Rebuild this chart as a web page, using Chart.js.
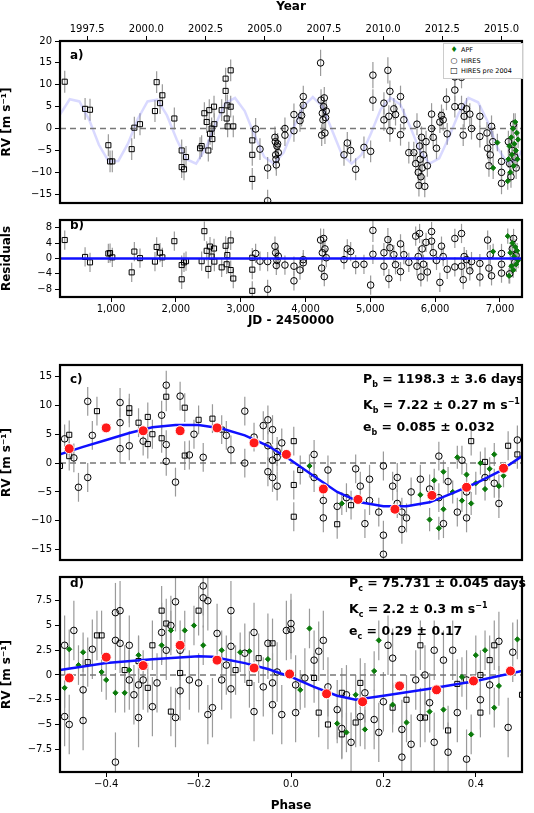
<!DOCTYPE html>
<html>
<head>
<meta charset="utf-8">
<script src="https://cdn.jsdelivr.net/npm/chart.js@4"></script>
<style>
  body { margin: 0; background: #fff; font-family: "DejaVu Sans", sans-serif; }
  #wrap { position: relative; width: 534px; height: 813px; }
  .c { position: absolute; left: 0; width: 534px; }
  .lab { position: absolute; font-weight: bold; font-size: 12px; color: #000; }
  .ann { position: absolute; font-weight: bold; font-size: 12.5px; line-height: 17px; color: #000; }
  .ann sub { font-size: 8px; }
  .ann sup { font-size: 8px; }
  #leg { position: absolute; left: 443px; top: 43px; width: 75px; border: 1px solid #ccc; background: #fff;
         font-size: 6.5px; line-height: 9.5px; padding: 1px 0 1px 3px; }
  #leg span { display: inline-block; width: 14px; text-align: center; }
</style>
</head>
<body>
<div id="wrap">
  <div class="c" style="top:0;height:212px"><canvas id="cA"></canvas></div>
  <div class="c" style="top:211px;height:117px"><canvas id="cB"></canvas></div>
  <div class="c" style="top:355px;height:214px"><canvas id="cC"></canvas></div>
  <div class="c" style="top:568px;height:245px"><canvas id="cD"></canvas></div>
  <div id="leg">
    <div><span style="color:#0a7a0a;font-size:8px">♦</span>APF</div>
    <div><span style="font-size:8px">○</span>HIRES</div>
    <div><span style="font-size:8px">□</span>HIRES pre 2004</div>
  </div>
  <div class="lab" style="left:70px;top:48px">a)</div>
  <div class="lab" style="left:70px;top:218px">b)</div>
  <div class="lab" style="left:70px;top:372px">c)</div>
  <div class="lab" style="left:70px;top:576px">d)</div>
  <div class="ann" style="left:363px;top:370px">P<sub>b</sub> = 1198.3 ± 3.6 days<br>K<sub>b</sub> = 7.22 ± 0.27 m s<sup>−1</sup><br>e<sub>b</sub> = 0.085 ± 0.032</div>
  <div class="ann" style="left:349px;top:574px">P<sub>c</sub> = 75.731 ± 0.045 days<br>K<sub>c</sub> = 2.2 ± 0.3 m s<sup>−1</sup><br>e<sub>c</sub> = 0.29 ± 0.17</div>
</div>
<script>
// ---- panel a: RV vs time [JD, RV, err] ----
let aPre = [[286,10.7,2.5],[600,4.5,2.5],[676,4.3,2.5],[959,-3.8,2.5],[985,-7.5,2.5],[1020,-7.5,2.5],[1319,-4.7,2.5],[1360,0.2,2.5],[1447,1,2.5],[1678,4,2.5],[1704,10.6,2.5],[1756,5.8,2.5],[1792,7.6,2.5],[1977,2.3,2.5],[2090,-5,2.5],[2090,-8.8,2.5],[2126,-9.3,2.5],[2157,-6.5,2.5],[2373,-4.5,2.5],[2398,-4,2.5],[2440,3.5,2.5],[2476,1.5,2.5],[2501,-5,2.5],[2516,4.2,2.5],[2527,-1.2,2.5],[2552,0,2.5],[2563,-2.4,2.5],[2589,5,2.5],[2594,1,2.5],[2707,4.2,2.5],[2768,11.4,2.5],[2768,8.6,2.5],[2784,2.3,2.5],[2794,5.3,2.5],[2799,0.5,2.5],[2846,13.3,2.5],[2846,5,2.5],[2886,0.5,2.5],[3179,-2.7,2.5],[3179,-6,2.5],[3179,-11.5,2.5]];
let aHires = [[3231,-0.1,2.5],[3298,-4.7,2.5],[3416,-9,2.5],[3416,-16.5,2.5],[3529,-2,2.5],[3535,-3,2.5],[3540,-6,2.5],[3545,-7,2.5],[3550,-8.3,2.5],[3560,-4,2.5],[3570,-3.5,2.5],[3580,-5.5,2.5],[3683,-1.5,2.5],[3683,0,2.5],[3822,3.2,2.5],[3822,-0.5,2.5],[3915,1.8,2.5],[3940,3,2.5],[3966,5.3,2.5],[3966,7.3,2.5],[4233,15,3],[4240,6.5,2.5],[4250,-1.5,2.5],[4260,3.5,2.5],[4270,2,2.5],[4280,5,2.5],[4290,7,2.5],[4300,-1,2.5],[4310,2.5,2.5],[4320,4,2.5],[4594,-6,2.5],[4645,-3.3,2.5],[4697,-5,2.5],[4774,-9.3,2.5],[4902,-4.3,2.5],[5005,-5.2,2.5],[5040,12.2,3],[5040,6.5,2.5],[5210,5.8,2.5],[5210,2,2.5],[5271,13.3,3],[5286,2.8,2.5],[5302,-0.5,2.5],[5302,8.5,2.5],[5363,4.5,2.5],[5389,3.2,2.5],[5466,7.3,2.5],[5466,-1.4,2.5],[5517,2,2.5],[5594,-5.5,2.5],[5671,-5.5,2.5],[5700,-8,2.5],[5720,1,2.5],[5740,-10,2.5],[5750,-13,2.5],[5760,-4,2.5],[5770,-7,2.5],[5780,-11,2.5],[5790,-2,2.5],[5800,-9,2.5],[5820,-6,2.5],[5840,-13.2,2.5],[5860,-3,2.5],[5880,-8.5,2.5],[5945,3.3,2.5],[5945,0,2.5],[5970,-2,2.5],[6021,-4.5,2.5],[6073,1.5,2.5],[6098,3,2.5],[6124,2,2.5],[6175,6.7,2.5],[6186,-1.2,2.5],[6304,11.8,2.5],[6304,8.8,2.5],[6304,5,2.5],[6407,11.7,2.5],[6407,5,2.5],[6433,-1.5,2.5],[6448,2.8,2.5],[6484,4.5,2.5],[6535,3.3,2.5],[6561,0,2.5],[6690,2.8,2.5],[6690,-1.8,2.5],[6800,-1,2.5],[6810,-4.5,2.5],[6830,-8.5,2.5],[6850,-6,2.5],[6870,0.5,2.5],[6890,-3,2.5],[7024,-10,2.5],[7024,-12.5,2.5],[7024,-7.5,2.5],[7130,-3,2.5],[7150,-8,2.5],[7170,-11,2.5],[7190,-5,2.5],[7210,1,2.5],[7230,-6.5,2.5],[7250,-9,2.5]];
let aApf = [[6895,-9,2.5],[6960,-3.2,2],[7120,-12,2],[7130,-7,2],[7145,-4,2],[7160,-10,2],[7175,-2,2],[7185,-6,2],[7200,0,2],[7210,-8.5,2],[7220,-3.5,2],[7235,1.5,2],[7245,-5,2],[7260,-1,2],[7270,-7,2],[7280,-2.5,2]];
let aModelJD = [];
let aModelRV = [3.2,6.7,6.2,2.0,-3.7,-7.5,-7.4,-3.4,2.2,6.2,6.6,3.0,-2.5,-7.0,-8.0,-4.5,1.0,5.8,7.0,4.0,-1.5,-6.5,-8.0,-5.5,0,5.0,7.2,5.0,-0.5,-6.0,-8.0,-6.0,-1.0,4.5,7.0,5.5,0.5,-5.0,-8.0,-6.8,-2.0,3.5,7.0,6.0,1.5,-4.5,-7.8,-7.0,-3.0];
for (let i = 0; i < aModelRV.length; i++) aModelJD.push(213 + 150 * i);

// ---- panel b: residuals [JD, res, err] ----
let bPre = [[286,4.8,2.5],[600,0.4,2.5],[676,-1,2.5],[959,1.3,2.5],[985,1.4,2.5],[1020,0.3,2.5],[1319,-3.6,2.5],[1360,1.8,2.5],[1447,0.1,2.5],[1678,-0.8,2.5],[1704,3,2.5],[1756,1.5,2.5],[1792,0.3,2.5],[1977,4.5,2.5],[2090,-1.7,2.5],[2090,-5.4,2.5],[2126,-1,2.5],[2157,-0.7,2.5],[2398,-0.7,2.5],[2440,7.1,2.5],[2476,2,2.5],[2501,-2.7,2.5],[2527,3.1,2.5],[2552,0.5,2.5],[2589,2.6,2.5],[2594,-0.8,2.5],[2707,-2.3,2.5],[2768,3.3,2.5],[2784,-1.5,2.5],[2794,0.9,2.5],[2846,4.7,2.5],[2846,-3,2.5],[2886,-5.2,2.5],[3179,0.2,2.5],[3179,-2.9,2.5],[3179,-8.4,2.5]];
let bHires = [[3231,1.3,2.5],[3298,-0.7,2.5],[3416,-0.8,2.5],[3416,-8,2.5],[3529,3.2,2.5],[3540,1.5,2.5],[3550,-1.8,2.5],[3560,-0.5,2.5],[3580,0.6,2.5],[3683,-1.7,2.5],[3822,-2,2.5],[3822,-5.8,2.5],[3915,-3,2.5],[3966,-1.1,2.5],[3966,-0.3,2.5],[4233,4.8,3],[4250,-2.5,2.5],[4260,1.5,2.5],[4280,5.2,2.5],[4290,-4.7,2.5],[4300,2.5,2.5],[4320,0.2,2.5],[4594,-0.3,2.5],[4645,2.5,2.5],[4697,1.8,2.5],[4774,-1.6,2.5],[4902,-1.5,2.5],[5005,-6.9,2.5],[5040,7.3,3],[5040,1.1,2.5],[5210,1.5,2.5],[5210,-2,2.5],[5271,4.9,3],[5286,-5.2,2.5],[5302,2.8,2.5],[5363,1,2.5],[5389,-1.6,2.5],[5466,3.8,2.5],[5466,-3.4,2.5],[5517,1,2.5],[5594,-1,2.5],[5700,5.8,2.5],[5720,-2,2.5],[5740,0.5,2.5],[5760,6.5,2.5],[5780,-4.8,2.5],[5800,2.5,2.5],[5820,-1.5,2.5],[5860,4.2,2.5],[5880,-3.5,2.5],[5945,7,2.5],[5945,4.5,2.5],[5970,1.5,2.5],[6021,-0.5,2.5],[6073,-6.2,2.5],[6098,3.2,2.5],[6124,0.5,2.5],[6186,-2.8,2.5],[6304,5.2,2.5],[6304,-2.2,2.5],[6407,6.5,2.5],[6407,-2,2.5],[6433,-5.5,2.5],[6448,0.5,2.5],[6484,-0.3,2.5],[6535,-3.2,2.5],[6561,-0.8,2.5],[6690,-1.3,2.5],[6690,-4.8,2.5],[6810,4.8,2.5],[6830,-2.5,2.5],[6850,1,2.5],[6870,-4.5,2.5],[7024,-1.5,2.5],[7024,-3.8,2.5],[7024,1.3,2.5],[7150,-4,2.5],[7190,2.5,2.5],[7210,5.2,2.5],[7230,-1,2.5],[7250,0.8,2.5]];
let bApf = [[6895,1.8,2],[7120,5.8,2],[7140,-4.5,2],[7160,1.5,2],[7175,-2,2],[7190,4,2],[7205,-3,2],[7220,0.5,2],[7235,3,2],[7250,-1.5,2],[7265,2,2],[7280,-0.5,2]];

// ---- panel c: phased planet b [phase, RV, err] ----
let cPre = [[-0.48,4.9,2.5],[-0.48,1.2,2.5],[-0.42,9,2.5],[-0.35,9.5,2.5],[-0.35,8.7,2.5],[-0.33,7,2.5],[-0.31,3.3,2.5],[-0.31,8,2.5],[-0.3,5,2.5],[-0.28,4.3,2.5],[-0.27,11.5,2.5],[-0.23,9.6,2.5],[-0.23,1.3,2.5],[-0.2,7.5,2.5],[-0.17,7.7,2.5],[-0.15,5.8,2.5],[0.006,3.8,2.5],[0.02,-1.2,2.5],[0.006,-3.8,2.5],[0.006,-9.3,2.5],[0.1,-10.6,2.5],[0.13,-7.3,2.5],[0.39,3.8,2.5],[0.42,0.2,2.5],[0.47,3,2.5],[0.49,1.5,2.5],[-0.5,-0.5,2.5]];
let cHires = [[-0.49,4.2,2.5],[-0.47,0.9,2.5],[-0.46,-4.2,2.5],[-0.44,10.7,2.5],[-0.44,-2.5,2.5],[-0.43,4.8,2.5],[-0.37,10.5,2.5],[-0.37,7,2.5],[-0.37,2.5,2.5],[-0.35,3,2.5],[-0.32,3.8,2.5],[-0.28,8.3,2.5],[-0.27,13.5,2.5],[-0.27,0.3,2.5],[-0.27,3.2,2.5],[-0.25,-3.3,2.5],[-0.24,11.6,2.5],[-0.22,1.4,2.5],[-0.21,5,2.5],[-0.19,1,2.5],[-0.14,4.8,2.5],[-0.13,2.3,2.5],[-0.1,9,2.5],[-0.1,0,2.5],[-0.08,4.5,2.5],[-0.06,6.5,2.5],[-0.05,7.5,2.5],[-0.05,3,2.5],[-0.05,-1.5,2.5],[-0.04,5.8,2.5],[-0.04,-2.5,2.5],[-0.04,0.5,2.5],[-0.03,2,2.5],[-0.03,-4,2.5],[-0.03,1,2.5],[-0.02,3.5,2.5],[0.05,1.5,2.5],[0.05,-2.5,2.5],[0.07,-6.5,2.5],[0.07,-9.5,2.5],[0.08,-1.2,2.5],[0.1,-7.5,2.5],[0.12,-6,2.5],[0.14,-1,2.5],[0.15,-4,2.5],[0.16,-10.5,2.5],[0.17,-2.8,2.5],[0.17,-6.5,2.5],[0.19,-8.5,2.5],[0.2,-12.5,2.5],[0.2,-0.5,2.5],[0.2,-15.8,2.5],[0.22,-4,2.5],[0.23,-7,2.5],[0.23,-2.5,2.5],[0.24,-11.5,2.5],[0.24,-8.5,2.5],[0.25,-9.5,2.5],[0.26,-5,2.5],[0.28,-2.8,2.5],[0.3,-4.5,2.5],[0.32,-6,2.5],[0.32,1.2,2.5],[0.33,-10.5,2.5],[0.34,-3.2,2.5],[0.36,-8.5,2.5],[0.37,0.5,2.5],[0.38,-9.5,2.5],[0.38,-5,2.5],[0.42,-2.5,2.5],[0.44,-3.5,2.5],[0.45,-7,2.5],[0.49,4,2.5]];
let cApf = [[0.3,-9.8,2],[0.32,-11.3,2],[0.33,-8,2],[0.33,-1.5,2],[0.35,-5,2],[0.36,1,2],[0.37,-6.5,2],[0.38,-2,2],[0.39,-7,2],[0.4,-3.5,2],[0.41,0,2],[0.42,-4.5,2],[0.43,-1,2],[0.44,1.5,2],[0.45,-4,2],[0.46,-2.2,2],[0.31,-3,2],[0.28,-5.5,2],[0.11,-7,2],[0.04,-0.5,2]];
let cBinX = [-0.48,-0.4,-0.32,-0.24,-0.16,-0.08,-0.01,0.07,0.145,0.225,0.305,0.38,0.46];
let cBinY = [2.5,6.1,5.6,5.6,6.1,3.5,1.5,-4.5,-6.3,-8.0,-5.6,-4.2,-0.9];
let cFitX = [-0.5,-0.45,-0.4,-0.35,-0.3,-0.25,-0.2,-0.15,-0.1,-0.05,0,0.05,0.1,0.15,0.2,0.25,0.3,0.35,0.4,0.45,0.5];
let cFitY = [1.5,2.8,4.0,5.2,6.2,6.6,6.6,6.0,4.8,3.0,0.5,-2.3,-5.0,-6.8,-7.5,-7.5,-6.8,-5.2,-3.5,-1.5,1.2];

// ---- panel d: phased planet c [phase, RV, err] ----
let dPre = [[-0.44,1.3,2.5],[-0.42,4,2.5],[-0.41,4,2.5],[-0.36,0.5,2.5],[-0.33,1.4,2.5],[-0.31,-1.3,2.5],[-0.3,3,2.5],[-0.28,6.5,2.5],[-0.27,5.2,2.5],[-0.26,-3.7,2.5],[-0.24,0.2,2.5],[-0.2,6.5,2.5],[-0.12,0.5,2.5],[-0.09,-0.8,2.5],[-0.07,1.7,2.5],[-0.04,3.2,2.5],[0.05,-0.3,2.5],[0.06,-3.8,2.5],[0.08,-5,2.5],[0.11,-1.8,2.5],[0.11,-6,2.5],[0.14,-4.8,2.5],[0.15,-0.8,2.5],[0.22,-3.3,2.5],[0.25,-2.5,2.5],[0.28,3,2.5],[0.29,-4.3,2.5],[0.34,-5.6,2.5],[0.36,-0.9,2.5],[0.41,0,2.5],[0.41,-3.8,2.5],[0.43,1.5,2.5],[0.44,3,2.5],[0.5,-2,2.5]];
let dHires = [[-0.49,3,3],[-0.49,-4.2,3],[-0.48,-5,3],[-0.47,4.5,3],[-0.45,-1.5,3],[-0.45,-4.6,3],[-0.43,2.6,3],[-0.38,3.5,3],[-0.38,6.3,3],[-0.38,-8.8,3],[-0.37,6.5,3],[-0.37,3.2,3],[-0.35,3,3],[-0.35,-0.5,3],[-0.34,-2,3],[-0.33,-1,3],[-0.33,-4.3,3],[-0.32,-0.5,3],[-0.3,-3.2,3],[-0.29,-0.8,3],[-0.28,4.3,3],[-0.27,2.5,3],[-0.26,5,3],[-0.25,7.4,3],[-0.25,-4.3,3],[-0.24,2.5,3],[-0.24,-1.6,3],[-0.22,-0.5,3],[-0.2,-0.8,3],[-0.19,7.8,3],[-0.19,9,3],[-0.18,7.5,3],[-0.18,-4,3],[-0.17,-3.3,3],[-0.16,4.2,3],[-0.15,-0.5,3],[-0.14,1,3],[-0.13,2.9,3],[-0.13,-1.4,3],[-0.13,6.5,3],[-0.1,2.2,3],[-0.08,-3.7,3],[-0.08,4.3,3],[-0.06,-1.2,3],[-0.05,3.2,3],[-0.04,-3,3],[-0.04,-0.8,3],[-0.03,0.3,3],[-0.02,-4,3],[-0.01,4.5,3],[0.0,4.6,3],[0.0,5.2,3],[0.01,-1,3],[0.01,-3.8,3],[0.03,-0.3,3],[0.05,1.5,3],[0.06,2.4,3],[0.07,3.5,3],[0.08,-1.2,3],[0.1,-3.5,3],[0.11,-5.4,3],[0.12,-2,3],[0.13,-6.8,3],[0.15,-4.2,3],[0.16,-1.8,3],[0.18,-4.5,3],[0.19,-5.8,3],[0.2,-2.7,3],[0.21,3,3],[0.22,1.7,3],[0.24,-5.5,3],[0.24,-8.3,3],[0.26,-7,3],[0.27,-0.5,3],[0.28,-4.3,3],[0.29,0,3],[0.3,-2.8,3],[0.31,2.5,3],[0.31,-6.8,3],[0.33,1.5,3],[0.34,-7.8,3],[0.35,2.5,3],[0.36,-3.8,3],[0.38,-8.5,3],[0.38,-0.5,3],[0.41,-2.5,3],[0.43,-1,3],[0.45,3.4,3],[0.47,-5.3,3],[0.48,2.3,3]];
let dApf = [[-0.49,-1.3,2],[-0.48,2.6,2],[-0.46,1,2],[-0.45,2.3,2],[-0.41,0.3,2],[-0.4,-0.5,2],[-0.38,-1.8,2],[-0.36,-1.8,2],[-0.35,0.5,2],[-0.33,2,2],[-0.28,3,2],[-0.26,4.5,2],[-0.23,4.5,2],[-0.21,5,2],[-0.19,3,2],[-0.15,2.5,2],[-0.11,2.3,2],[-0.09,2.4,2],[-0.05,1.6,2],[0.02,-1.5,2],[0.04,4.7,2],[0.1,-4.9,2],[0.12,-5.8,2],[0.14,-2,2],[0.16,-5.5,2],[0.18,0.4,2],[0.19,3.5,2],[0.22,-3,2],[0.25,-4.8,2],[0.3,-3.7,2],[0.33,-3.5,2],[0.37,-0.2,2],[0.39,-6,2],[0.4,2,2],[0.42,2.5,2],[0.44,-3.3,2],[0.45,-1.1,2],[0.49,3.6,2]];
let dBinX = [-0.48,-0.4,-0.32,-0.24,-0.16,-0.08,-0.003,0.077,0.155,0.235,0.315,0.395,0.475];
let dBinY = [-0.3,1.8,0.95,3.0,1.5,0.7,0.1,-1.9,-2.7,-1.1,-1.5,-0.6,0.4];
let dFitX = [-0.5,-0.4,-0.3,-0.2,-0.17,-0.1,-0.05,0,0.05,0.1,0.14,0.2,0.3,0.4,0.5];
let dFitY = [0.5,1.2,1.6,1.9,1.85,1.2,0.6,-0.2,-1.2,-2.1,-2.5,-2.1,-1.4,-0.6,0.4];

// tick labels
let yearTicks = [1997.5,2000.0,2002.5,2005.0,2007.5,2010.0,2012.5,2015.0];
let jdTicks = [1000,2000,3000,4000,5000,6000,7000];
let aTicksY = [-15,-10,-5,0,5,10,15,20];
let bTicksY = [-8,-4,0,4,8];
let cTicksY = [-15,-10,-5,0,5,10,15];
let dTicksY = [-7.5,-5,-2.5,0,2.5,5,7.5];
let phaseTicks = [-0.4,-0.2,0,0.2,0.4];

const FONT = "DejaVu Sans";
const toPts = arr => arr.map(p => ({ x: p[0], y: p[1], e: p[2] }));
const zip = (xs, ys) => xs.map((x, i) => ({ x: x, y: ys[i] }));

// grey error bars + box around plot area
const errBars = {
  id: "errBars",
  beforeDatasetsDraw(chart) {
    const ctx = chart.ctx, xs = chart.scales.x, ys = chart.scales.y;
    ctx.save();
    ctx.beginPath();
    ctx.rect(chart.chartArea.left, chart.chartArea.top, chart.chartArea.width, chart.chartArea.height);
    ctx.clip();
    ctx.strokeStyle = "#9a9a9a";
    ctx.lineWidth = 1.2;
    chart.data.datasets.forEach(ds => {
      if (!ds.errors) return;
      ds.data.forEach(p => {
        const px = xs.getPixelForValue(p.x);
        ctx.beginPath();
        ctx.moveTo(px, ys.getPixelForValue(p.y - p.e));
        ctx.lineTo(px, ys.getPixelForValue(p.y + p.e));
        ctx.stroke();
      });
    });
    ctx.restore();
  },
  afterDraw(chart) {
    const a = chart.chartArea, ctx = chart.ctx;
    ctx.save();
    ctx.strokeStyle = "#000";
    ctx.lineWidth = 2.2;
    ctx.strokeRect(a.left, a.top, a.width, a.height);
    ctx.restore();
  }
};

function series(label, pts, kind) {
  const base = { label: label, data: toPts(pts), errors: true, showLine: false, order: 2 };
  if (kind === "pre") return Object.assign(base, { pointStyle: "rect", pointRadius: 3.6, borderColor: "#000", backgroundColor: "rgba(0,0,0,0)", borderWidth: 1 });
  if (kind === "hires") return Object.assign(base, { pointStyle: "circle", pointRadius: 3.3, borderColor: "#000", backgroundColor: "rgba(0,0,0,0)", borderWidth: 1 });
  return Object.assign(base, { pointStyle: "rectRot", pointRadius: 2.6, borderColor: "#0a7a0a", backgroundColor: "#0a7a0a", borderWidth: 1, order: 1 });
}
function line(label, pts, color, width, dash, order) {
  return { label: label, data: pts, showLine: true, pointRadius: 0, borderColor: color, borderWidth: width, borderDash: dash || [], order: order, fill: false };
}
function yAxis(min, max, ticks, title) {
  return {
    min: min, max: max,
    afterFit: s => { s.width = 60; },
    afterBuildTicks: s => { s.ticks = ticks.map(v => ({ value: v })); },
    ticks: { color: "#000", font: { family: FONT, size: 10 }, padding: 3, callback: v => String(v).replace("-", "−") },
    grid: { drawOnChartArea: false, tickLength: 5, color: "#000" },
    border: { display: false },
    title: { display: !!title, text: title, color: "#000", font: { family: FONT, size: 12, weight: "bold" }, padding: 0 }
  };
}
function baseOpts(xScale, yScale, extra) {
  return Object.assign({
    responsive: true, maintainAspectRatio: false, animation: false,
    layout: { padding: { right: 12, top: 0, bottom: 0, left: 0 } },
    plugins: { legend: { display: false }, tooltip: { enabled: false } },
    scales: { x: xScale, y: yScale }
  }, extra || {});
}

// ---- chart a ----
new Chart(document.getElementById("cA"), {
  type: "scatter",
  data: { datasets: [
    series("APF", aApf, "apf"),
    series("HIRES", aHires, "hires"),
    series("HIRES pre 2004", aPre, "pre"),
    line("model", zip(aModelJD, aModelRV), "rgba(130,130,255,0.3)", 2.5, null, 5),
    line("zero", [{ x: 213, y: 0 }, { x: 7340, y: 0 }], "#777", 1.5, [6, 4], 4)
  ] },
  options: baseOpts({
    type: "linear", position: "top", min: 213, max: 7340,
    afterFit: s => { s.height = 41; },
    afterBuildTicks: s => { s.ticks = yearTicks.map(y => ({ value: 1545 + (y - 2000) * 365.25 })); },
    ticks: { color: "#000", font: { family: FONT, size: 10 }, padding: 1, maxRotation: 0,
      callback: (v, i) => yearTicks[i].toFixed(1) },
    grid: { drawOnChartArea: false, tickLength: 5, color: "#000" },
    border: { display: false },
    title: { display: true, text: "Year", color: "#000", font: { family: FONT, size: 12, weight: "bold" }, padding: 0 }
  }, yAxis(-17, 20, aTicksY, "RV [m s⁻¹]")),
  plugins: [errBars]
});

// ---- chart b ----
new Chart(document.getElementById("cB"), {
  type: "scatter",
  data: { datasets: [
    series("APF", bApf, "apf"),
    series("HIRES", bHires, "hires"),
    series("HIRES pre 2004", bPre, "pre"),
    line("zero", [{ x: 213, y: 0 }, { x: 7340, y: 0 }], "#1010ff", 2.5, null, 0)
  ] },
  options: baseOpts({
    type: "linear", position: "bottom", min: 213, max: 7340,
    afterFit: s => { s.height = 31; },
    afterBuildTicks: s => { s.ticks = jdTicks.map(v => ({ value: v })); },
    ticks: { color: "#000", font: { family: FONT, size: 10 }, padding: 1, maxRotation: 0 },
    grid: { drawOnChartArea: false, tickLength: 5, color: "#000" },
    border: { display: false },
    title: { display: true, text: "JD - 2450000", color: "#000", font: { family: FONT, size: 12, weight: "bold" }, padding: 0 }
  }, yAxis(-10, 10, bTicksY, "Residuals")),
  plugins: [errBars]
});

function phaseX(showLabels) {
  return {
    type: "linear", position: "bottom", min: -0.5, max: 0.5,
    afterFit: s => { s.height = showLabels ? 41 : 0; },
    afterBuildTicks: s => { s.ticks = phaseTicks.map(v => ({ value: v })); },
    ticks: { display: showLabels, color: "#000", font: { family: FONT, size: 10 }, padding: 1, maxRotation: 0,
      callback: v => v.toFixed(1).replace("-", "−") },
    grid: { display: showLabels, drawOnChartArea: false, tickLength: 5, color: "#000" },
    border: { display: false },
    title: { display: showLabels, text: "Phase", color: "#000", font: { family: FONT, size: 12, weight: "bold" }, padding: 0 }
  };
}
function binned(xs, ys) {
  return { label: "bin", data: zip(xs, ys), showLine: false, pointStyle: "circle", pointRadius: 5,
    backgroundColor: "#ff1a1a", borderColor: "#fff", borderWidth: 1, order: 0 };
}

// ---- chart c ----
new Chart(document.getElementById("cC"), {
  type: "scatter",
  data: { datasets: [
    series("APF", cApf, "apf"),
    series("HIRES", cHires, "hires"),
    series("HIRES pre 2004", cPre, "pre"),
    line("zero", [{ x: -0.5, y: 0 }, { x: 0.5, y: 0 }], "#777", 1.5, [6, 4], 4),
    line("fit", zip(cFitX, cFitY), "#1010ff", 2.5, null, 0.5),
    binned(cBinX, cBinY)
  ] },
  options: baseOpts(phaseX(false), yAxis(-16.8, 17, cTicksY, "RV [m s⁻¹]"), { layout: { padding: { right: 12, top: 10, bottom: 0 } } }),
  plugins: [errBars]
});

// ---- chart d ----
new Chart(document.getElementById("cD"), {
  type: "scatter",
  data: { datasets: [
    series("APF", dApf, "apf"),
    series("HIRES", dHires, "hires"),
    series("HIRES pre 2004", dPre, "pre"),
    line("zero", [{ x: -0.5, y: 0 }, { x: 0.5, y: 0 }], "#777", 1.5, [6, 4], 4),
    line("fit", zip(dFitX, dFitY), "#1010ff", 2.5, null, 0.5),
    binned(dBinX, dBinY)
  ] },
  options: baseOpts(phaseX(true), yAxis(-9.8, 9.9, dTicksY, "RV [m s⁻¹]")),
  plugins: [errBars]
});
</script>
</body>
</html>
